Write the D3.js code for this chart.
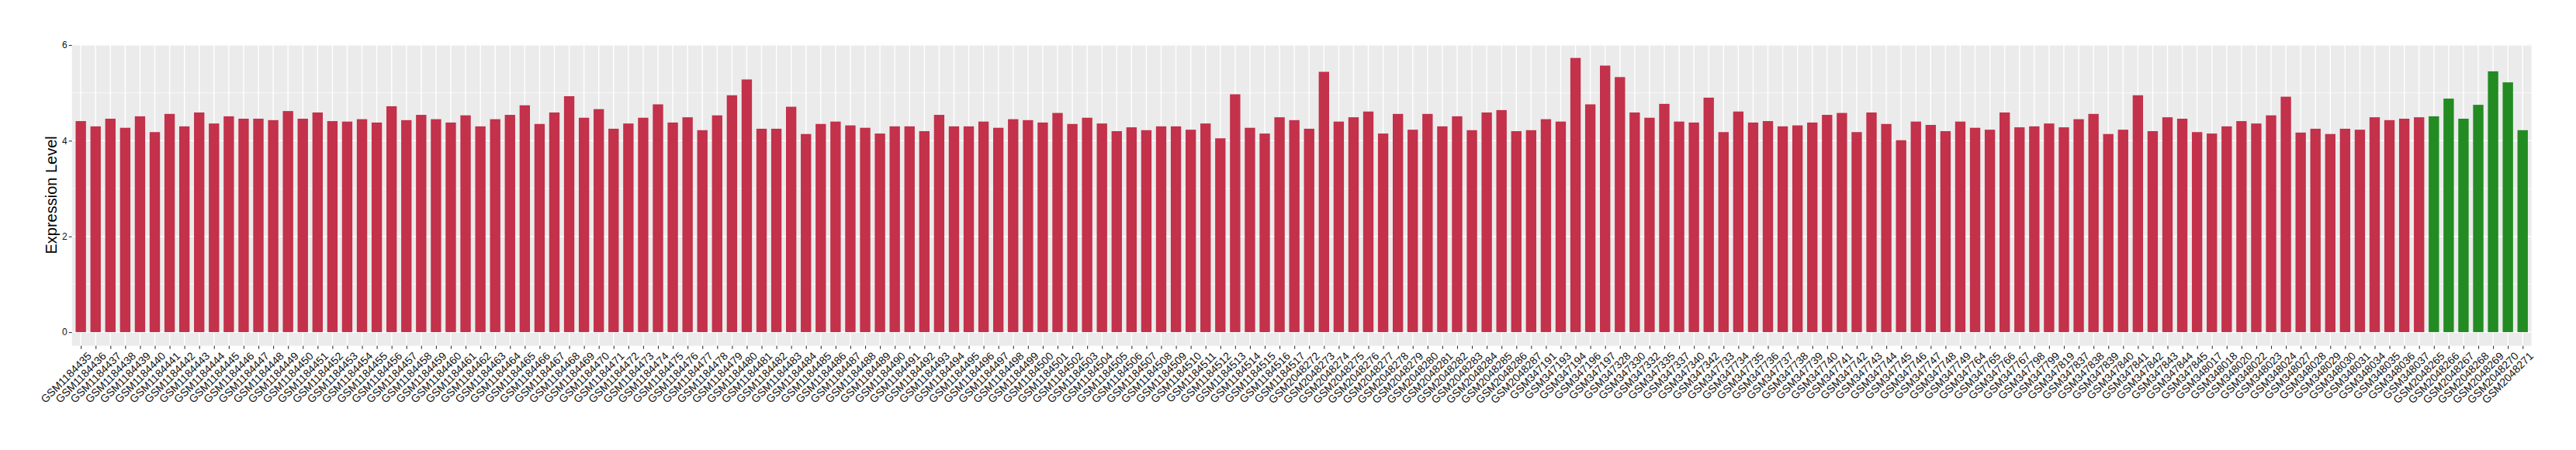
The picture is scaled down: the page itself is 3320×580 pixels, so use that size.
<!DOCTYPE html>
<html>
<head>
<meta charset="utf-8">
<script src="https://cdn.jsdelivr.net/npm/d3@7"></script>
<style>
  html, body { margin: 0; padding: 0; background: #fff; }
  svg { display: block; }
</style>
</head>
<body>
<svg id="chart" width="3320" height="580"></svg>
<script>
// ---- data ----
const groupA = [
  "GSM1184435","GSM1184436","GSM1184437","GSM1184438","GSM1184439","GSM1184440","GSM1184441","GSM1184442","GSM1184443","GSM1184444",
  "GSM1184445","GSM1184446","GSM1184447","GSM1184448","GSM1184449","GSM1184450","GSM1184451","GSM1184452","GSM1184453","GSM1184454",
  "GSM1184455","GSM1184456","GSM1184457","GSM1184458","GSM1184459","GSM1184460","GSM1184461","GSM1184462","GSM1184463","GSM1184464",
  "GSM1184465","GSM1184466","GSM1184467","GSM1184468","GSM1184469","GSM1184470","GSM1184471","GSM1184472","GSM1184473","GSM1184474",
  "GSM1184475","GSM1184476","GSM1184477","GSM1184478","GSM1184479","GSM1184480","GSM1184481","GSM1184482","GSM1184483","GSM1184484",
  "GSM1184485","GSM1184486","GSM1184487","GSM1184488","GSM1184489","GSM1184490","GSM1184491","GSM1184492","GSM1184493","GSM1184494",
  "GSM1184495","GSM1184496","GSM1184497","GSM1184498","GSM1184499","GSM1184500","GSM1184501","GSM1184502","GSM1184503","GSM1184504",
  "GSM1184505","GSM1184506","GSM1184507","GSM1184508","GSM1184509","GSM1184510","GSM1184511","GSM1184512","GSM1184513","GSM1184514",
  "GSM1184515","GSM1184516","GSM1184517",
  "GSM2048272","GSM2048273","GSM2048274","GSM2048275","GSM2048276","GSM2048277","GSM2048278","GSM2048279","GSM2048280","GSM2048281",
  "GSM2048282","GSM2048283","GSM2048284","GSM2048285","GSM2048286","GSM2048287",
  "GSM347191","GSM347193","GSM347194","GSM347196","GSM347197","GSM347328","GSM347330","GSM347332","GSM347335","GSM347337",
  "GSM347340","GSM347342","GSM347733","GSM347734","GSM347735","GSM347736","GSM347737","GSM347738","GSM347739","GSM347740",
  "GSM347741","GSM347742","GSM347743","GSM347744","GSM347745","GSM347746","GSM347747","GSM347748","GSM347749","GSM347764",
  "GSM347765","GSM347766","GSM347767","GSM347798","GSM347799","GSM347819","GSM347837","GSM347838","GSM347839","GSM347840",
  "GSM347841","GSM347842","GSM347843","GSM347844","GSM347845","GSM348017","GSM348018","GSM348020","GSM348022","GSM348023",
  "GSM348024","GSM348027","GSM348028","GSM348029","GSM348030","GSM348031","GSM348034","GSM348035","GSM348036","GSM348037"
];
const valuesA = [
  4.41,4.30,4.46,4.27,4.51,4.18,4.56,4.30,4.59,4.36,
  4.51,4.46,4.46,4.43,4.62,4.46,4.59,4.41,4.40,4.45,
  4.38,4.72,4.43,4.54,4.45,4.38,4.53,4.30,4.45,4.54,
  4.74,4.35,4.59,4.93,4.48,4.66,4.25,4.36,4.48,4.76,
  4.38,4.49,4.22,4.53,4.95,5.28,4.25,4.25,4.71,4.14,
  4.35,4.40,4.32,4.27,4.15,4.30,4.30,4.20,4.54,4.30,
  4.30,4.40,4.27,4.45,4.43,4.38,4.58,4.35,4.48,4.36,
  4.20,4.28,4.22,4.30,4.30,4.23,4.36,4.05,4.97,4.27,
  4.15,4.49,4.43,
  4.25,5.44,4.40,4.49,4.61,4.15,4.56,4.23,4.56,4.30,
  4.51,4.22,4.59,4.64,4.20,4.22,
  4.45,4.40,5.73,4.76,5.57,5.33,4.59,4.48,4.77,4.40,
  4.38,4.90,4.18,4.61,4.38,4.41,4.30,4.32,4.38,4.54,
  4.58,4.18,4.59,4.35,4.01,4.40,4.33,4.20,4.40,4.27,
  4.23,4.59,4.28,4.30,4.36,4.28,4.45,4.56,4.14,4.23,
  4.95,4.20,4.49,4.46,4.18,4.15,4.30,4.41,4.36,4.53,
  4.92,4.17,4.25,4.14,4.25,4.23,4.49,4.43,4.46,4.49
];
const groupB = ["GSM2048265","GSM2048266","GSM2048267","GSM2048268","GSM2048269","GSM2048270","GSM2048271"];
const valuesB = [4.51,4.88,4.46,4.75,5.45,5.22,4.22];
const yTicks = [0, 2, 4, 6];
const yMinor = [1, 3, 5];
const colorA = "#C3314A";
const colorB = "#228B22";
const yTitle = "Expression Level";

// ---- build ----
const rows = groupA.map((s, i) => ({ s, v: valuesA[i], c: colorA }))
  .concat(groupB.map((s, i) => ({ s, v: valuesB[i], c: colorB })));

const svg = d3.select("#chart");
const P = { left: 92.7, right: 3262.7, top: 57, bottom: 445.7 };
const FONT = "'Liberation Sans', Arial, Helvetica, sans-serif";

const x = d3.scalePoint().domain(rows.map(d => d.s)).range([P.left, P.right]).padding(0.6);
const vmax = d3.max(rows, d => d.v);
const pad = vmax * 0.05;
const y = d3.scaleLinear().domain([-pad, vmax + pad]).range([P.bottom, P.top]);
const bw = x.step() * 0.7;

// panel background
svg.append("rect").attr("x", P.left).attr("y", P.top)
  .attr("width", P.right - P.left).attr("height", P.bottom - P.top).attr("fill", "#EBEBEB");

// minor grid
svg.append("g").selectAll("line").data(yMinor).join("line")
  .attr("x1", P.left).attr("x2", P.right)
  .attr("y1", d => y(d)).attr("y2", d => y(d))
  .attr("stroke", "#fff").attr("stroke-width", 0.7);
// major grid
svg.append("g").selectAll("line").data(yTicks).join("line")
  .attr("x1", P.left).attr("x2", P.right)
  .attr("y1", d => y(d)).attr("y2", d => y(d))
  .attr("stroke", "#fff").attr("stroke-width", 1.4);
svg.append("g").selectAll("line").data(rows).join("line")
  .attr("x1", d => x(d.s)).attr("x2", d => x(d.s))
  .attr("y1", P.top).attr("y2", P.bottom)
  .attr("stroke", "#fff").attr("stroke-width", 1.4);

// bars
svg.append("g").selectAll("rect").data(rows).join("rect")
  .attr("x", d => x(d.s) - bw / 2).attr("width", bw)
  .attr("y", d => y(d.v)).attr("height", d => y(0) - y(d.v))
  .attr("fill", d => d.c);

// y axis
const yAxis = d3.axisLeft(y).tickValues(yTicks).tickSize(4).tickPadding(2).tickFormat(d3.format("d"));
const gy = svg.append("g").attr("transform", `translate(${P.left},0)`).call(yAxis);
gy.select(".domain").remove();
gy.selectAll(".tick line").attr("stroke", "#333").attr("stroke-width", 1.1);
gy.selectAll(".tick text").attr("fill", "#111").style("font-family", FONT).style("font-size", "12px");

// x axis
const xAxis = d3.axisBottom(x).tickSize(4).tickPadding(2);
const gx = svg.append("g").attr("transform", `translate(0,${P.bottom})`).call(xAxis);
gx.select(".domain").remove();
gx.selectAll(".tick line").attr("stroke", "#333").attr("stroke-width", 1.1);
gx.selectAll(".tick text")
  .attr("fill", "#111")
  .style("font-family", FONT).style("font-size", "14px")
  .attr("text-anchor", "end")
  .attr("x", 0).attr("y", 0).attr("dy", "0.72em")
  .attr("transform", "translate(7,7) rotate(-45)");

// y title
svg.append("text")
  .attr("transform", `translate(72.5,${(P.top + P.bottom) / 2}) rotate(-90)`)
  .attr("text-anchor", "middle")
  .style("font-family", FONT).style("font-size", "20px")
  .attr("fill", "#000")
  .text(yTitle);
</script>
</body>
</html>
